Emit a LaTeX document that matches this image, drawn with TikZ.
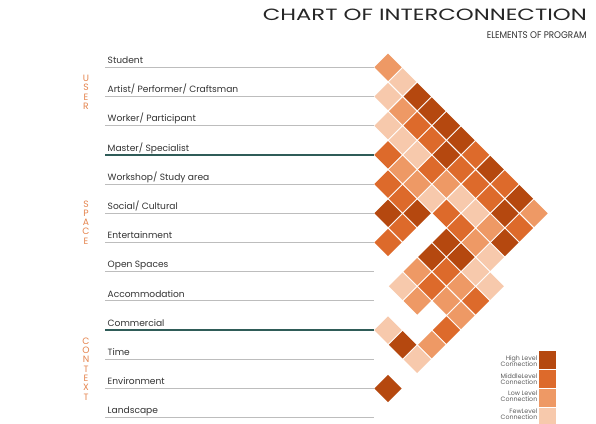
\documentclass[tikz,border=0pt]{standalone}
\usepackage{fontspec}
\setmainfont{Poppins}
\definecolor{lvlH}{HTML}{B5480F}
\definecolor{lvlM}{HTML}{DD6A2B}
\definecolor{lvlL}{HTML}{EE9965}
\definecolor{lvlF}{HTML}{F7C9AC}
\definecolor{sidec}{HTML}{E5844D}
\definecolor{txtc}{HTML}{333333}
\definecolor{rulec}{HTML}{BDBDBD}
\definecolor{tealc}{HTML}{2F5C58}
\tikzset{
  lbl/.style={anchor=base west, inner sep=0pt, text=txtc, font=\fontsize{9.1}{10}\selectfont},
  side/.style={inner sep=0pt, text=sidec, font=\fontsize{9.2}{9}\selectfont},
  rulethin/.style={draw=rulec, line width=0.9pt},
  rulethick/.style={draw=tealc, line width=1.6pt},
  legtxt/.style={anchor=east, inner sep=0pt, text=txtc!80, align=right, font=\fontsize{6.3}{6.6}\selectfont},
  legbox/.style={draw=white, line width=0.8pt, minimum size=18.5pt, inner sep=0pt},
}
\begin{document}
\begin{tikzpicture}[x=1pt,y=-1pt]
\useasboundingbox (0,0) rectangle (596,423);
\fill[white] (0,0) rectangle (596,423);
% titles
\node[anchor=north east, inner sep=0pt, text=black!85] (title) at (587,8.3) {\resizebox{324pt}{11.5pt}{CHART OF INTERCONNECTION}};
\node[anchor=north east, inner sep=0pt, text=black!80] (subtitle) at (587,31.3) {\resizebox{100pt}{6.8pt}{ELEMENTS OF PROGRAM}};
% rows
\foreach \i/\t in {0/Student,1/{Artist/ Performer/ Craftsman},2/{Worker/ Participant},3/{Master/ Specialist},4/{Workshop/ Study area},5/{Social/ Cultural},6/Entertainment,7/Open Spaces,8/Accommodation,9/Commercial,10/Time,11/Environment,12/Landscape}{
  \pgfmathsetmacro\ly{67.3+29.2*\i}
  \node[lbl] (lab\i) at (107.5,\ly-3.8) {\t};
  \coordinate (ra\i) at (105,\ly);
  \coordinate (rb\i) at (374,\ly);
}
\foreach \i in {0,1,2,4,5,6,7,8,10,11,12}{\draw[rulethin] (ra\i) -- (rb\i);}
\foreach \i in {3,9}{\draw[rulethick] (ra\i) -- (rb\i);}
% side letters
\foreach \ch/\yy [count=\k] in {U/78,S/87.5,E/97,R/106.5}{\node[side] (us\k) at (86,\yy) {\ch};}
\foreach \ch/\yy [count=\k] in {S/204,P/213,A/222,C/231.5,E/241}{\node[side] (sp\k) at (86,\yy) {\ch};}
\foreach \ch/\yy [count=\k] in {C/341,O/350.3,N/359.6,T/368.9,E/378.2,X/387.5,T/396.8}{\node[side] (co\k) at (86,\yy) {\ch};}
% matrix of diamonds
\def\dd{14.6}
\def\hh{13.7}
\foreach \c/\r/\l in {
 0/0/L, 1/1/F,
 0/2/F, 2/2/H,
 1/3/L, 3/3/H,
 0/4/F, 2/4/M, 4/4/H,
 1/5/F, 3/5/M, 5/5/H,
 0/6/M, 2/6/F, 4/6/H, 6/6/M,
 1/7/L, 3/7/M, 5/7/M, 7/7/H,
 0/8/M, 2/8/L, 4/8/L, 6/8/M, 8/8/M,
 1/9/M, 3/9/F, 5/9/F, 7/9/M, 9/9/H,
 0/10/H, 2/10/H, 4/10/M, 6/10/F, 8/10/H, 10/10/L,
 1/11/M, 5/11/M, 7/11/L, 9/11/M,
 0/12/M, 4/12/H, 6/12/L, 8/12/H,
 3/13/H, 5/13/H, 7/13/F,
 2/14/L, 4/14/M, 6/14/F,
 1/15/F, 3/15/M, 5/15/L, 7/15/F,
 2/16/L, 4/16/L, 6/16/M,
 5/17/L,
 0/18/F, 4/18/M,
 1/19/H, 3/19/L,
 2/20/F,
 0/22/H}{
  \fill[lvl\l] (388+\c*\dd,67.3+\r*\dd) +(0,-\hh) -- +(\hh,0) -- +(0,\hh) -- +(-\hh,0) -- cycle;
}
% legend
\node[legbox, fill=lvlH] (bH) at (547.5,360) {};
\node[legbox, fill=lvlM] (bM) at (547.5,379) {};
\node[legbox, fill=lvlL] (bL) at (547.5,398) {};
\node[legbox, fill=lvlF] (bF) at (547.5,417) {};
\node[legtxt] (tH) at (537.5,361) {High Level\\Connection};
\node[legtxt] (tM) at (537.5,379) {MiddleLevel\\Connection};
\node[legtxt] (tL) at (537.5,396) {Low Level\\Connection};
\node[legtxt] (tF) at (537.5,414) {FewLevel\\Connection};
\end{tikzpicture}
\end{document}
